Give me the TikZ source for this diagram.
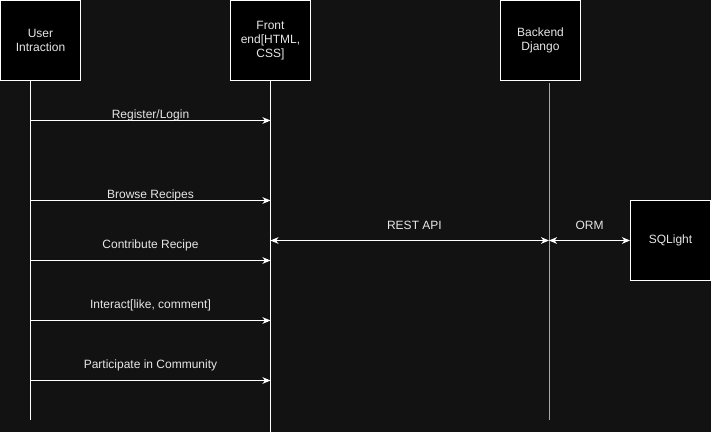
\documentclass[tikz,border=0pt]{standalone}
\usepackage{fontspec}
\setmainfont{Liberation Sans}
\usetikzlibrary{arrows.meta}
\definecolor{bg}{HTML}{121212}
\definecolor{txt}{HTML}{E6E6E6}
\definecolor{lifegray}{HTML}{A8A8A8}
\begin{document}
\begin{tikzpicture}[x=0.75pt,y=-0.75pt,
  actor/.style={draw=white,fill=black,line width=0.75pt,minimum width=60pt,minimum height=60pt,inner sep=1pt,text=txt,font=\fontsize{9}{10.5}\selectfont,align=center,text width=56pt},
  life/.style={draw=white,line width=0.75pt},
  msg/.style={draw=white,line width=0.75pt,-{Stealth[length=6pt,width=5pt,inset=1.8pt]}},
  bimsg/.style={draw=white,line width=0.75pt,{Stealth[length=6pt,width=5pt,inset=1.8pt]}-{Stealth[length=6pt,width=5pt,inset=1.8pt]}},
  lbl/.style={text=txt,font=\fontsize{9}{10.5}\selectfont,inner sep=0pt,anchor=center},
  near/.style={lbl,yshift=3.8pt},
  far/.style={lbl,yshift=11.5pt}]
\fill[bg] (0,0) rectangle (711,432);
\useasboundingbox (0,0) rectangle (711,432);
% actors
\node[actor] (user) at (40.5,40.5) {User\\Intraction};
\node[actor] (front) at (270.5,40.5) {Front\\end[HTML,\\CSS]};
\node[actor] (back) at (540.5,40.5) {Backend\\Django};
\node[actor] (db) at (670.5,240.5) {SQLight};
% lifeline coordinates
\coordinate (uT) at (30.5,80.5);
\coordinate (uB) at (30.5,420);
\coordinate (fT) at (270.5,80.5);
\coordinate (fB) at (270.5,432);
\coordinate (bT) at (549,83);
\coordinate (bB) at (549,420);
\draw[life] (uT) -- (uB);
\draw[life] (fT) -- (fB);
\draw[draw=lifegray,line width=0.75pt] (bT) -- (bB);
% messages
\foreach \y/\n in {120.5/a, 200.5/b, 260.5/c, 320.5/d, 380.5/e}{
  \coordinate (s\n) at (30.5,\y);
  \coordinate (t\n) at (270.5,\y);
}
\draw[msg] (sa) -- node[near] {Register/Login} (ta);
\draw[msg] (sb) -- node[near] {Browse Recipes} (tb);
\draw[msg] (sc) -- node[far] {Contribute Recipe} (tc);
\draw[msg] (sd) -- node[far] {Interact[like, comment]} (td);
\draw[msg] (se) -- node[far] {Participate in Community} (te);
\coordinate (rf) at (270.5,240.5);
\coordinate (rb) at (549,240.5);
\draw[bimsg] (rf) -- node[far,xshift=3.5pt] {REST API} (rb);
\draw[bimsg] (rb) -- node[far] {ORM} (db.west);
\end{tikzpicture}
\end{document}
